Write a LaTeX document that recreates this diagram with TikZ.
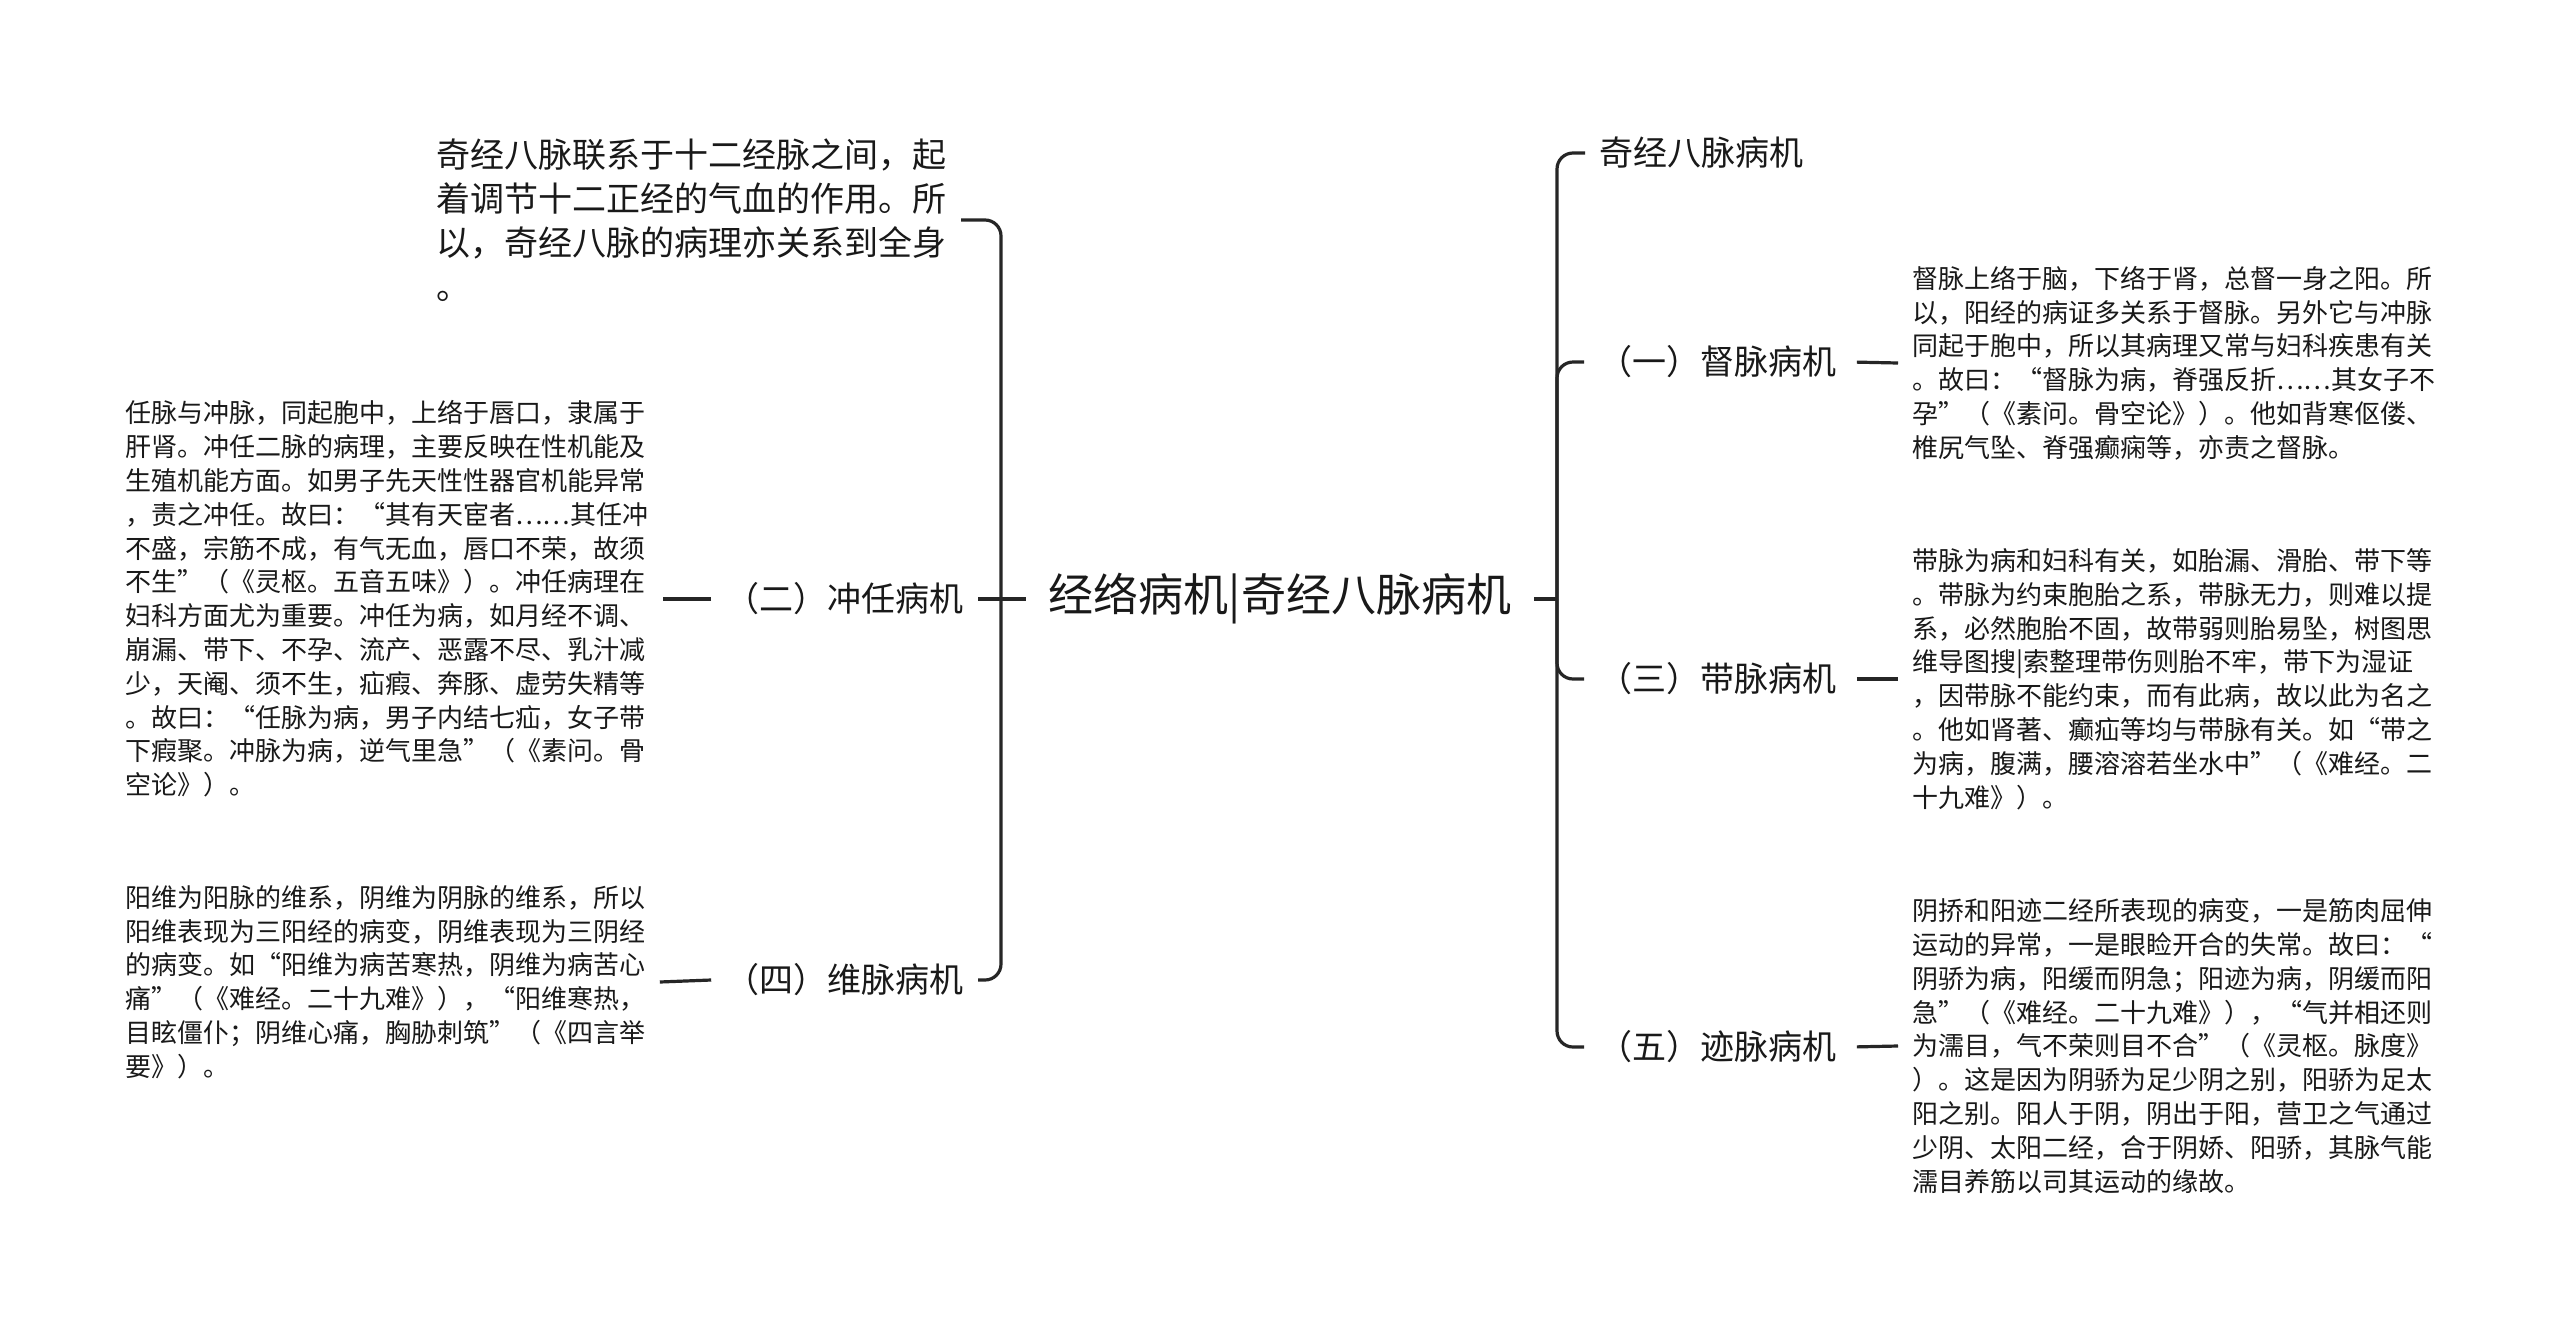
\documentclass[tikz,border=0pt]{standalone}
\usepackage{fontspec}
\setmainfont{Noto Sans CJK SC}
\begin{document}
\begin{tikzpicture}[x=0.5pt,y=-0.5pt,
  conn/.style={line width=1.6pt, draw=black!85},
  brace/.style={conn, rounded corners=8pt},
  body/.style={font=\fontsize{13pt}{16.9pt}\selectfont, align=left, inner xsep=7pt, inner ysep=0pt, text=black!90},
  topblk/.style={font=\fontsize{17pt}{22pt}\selectfont, align=left, inner xsep=7pt, inner ysep=0pt, text=black!90},
  lbl/.style={font=\fontsize{17pt}{20pt}\selectfont, inner xsep=7pt, inner ysep=2pt, text=black!90},
  rootst/.style={font=\fontsize{22.5pt}{26pt}\selectfont, inner xsep=11.5pt, inner ysep=4pt, text=black!90}]
\useasboundingbox (0,0) rectangle (2560,1323);
\fill[white] (0,0) rectangle (2560,1323);

% root
\node[rootst] (root) at (1280,599) {经络病机|奇经八脉病机};
\coordinate (lb) at (1001,599);
\coordinate (rb) at (1557,599);

% left side
\node[topblk, anchor=east] (intro) at (961,220) {奇经八脉联系于十二经脉之间，起\\着调节十二正经的气血的作用。所\\以，奇经八脉的病理亦关系到全身\\。};
\node[lbl, anchor=east] (c2) at (978,599) {（二）冲任病机};
\node[lbl, anchor=east] (c4) at (978,980) {（四）维脉病机};
\node[body, anchor=west] (t2) at (111,599) {任脉与冲脉，同起胞中，上络于唇口，隶属于\\肝肾。冲任二脉的病理，主要反映在性机能及\\生殖机能方面。如男子先天性性器官机能异常\\，责之冲任。故曰：“其有天宦者……其任冲\\不盛，宗筋不成，有气无血，唇口不荣，故须\\不生”（《灵枢。五音五味》）。冲任病理在\\妇科方面尤为重要。冲任为病，如月经不调、\\崩漏、带下、不孕、流产、恶露不尽、乳汁减\\少，天阉、须不生，疝瘕、奔豚、虚劳失精等\\。故曰：“任脉为病，男子内结七疝，女子带\\下瘕聚。冲脉为病，逆气里急”（《素问。骨\\空论》）。};
\node[body, anchor=west] (t4) at (111,982) {阳维为阳脉的维系，阴维为阴脉的维系，所以\\阳维表现为三阳经的病变，阴维表现为三阴经\\的病变。如“阳维为病苦寒热，阴维为病苦心\\痛”（《难经。二十九难》），“阳维寒热，\\目眩僵仆；阴维心痛，胸胁刺筑”（《四言举\\要》）。};

% right side
\node[lbl, anchor=west] (r0) at (1585,153) {奇经八脉病机};
\node[lbl, anchor=west] (r1) at (1584,362) {（一）督脉病机};
\node[lbl, anchor=west] (r3) at (1584,679) {（三）带脉病机};
\node[lbl, anchor=west] (r5) at (1584,1047) {（五）迹脉病机};
\node[body, anchor=west] (t1) at (1898,363) {督脉上络于脑，下络于肾，总督一身之阳。所\\以，阳经的病证多关系于督脉。另外它与冲脉\\同起于胞中，所以其病理又常与妇科疾患有关\\。故曰：“督脉为病，脊强反折……其女子不\\孕”（《素问。骨空论》）。他如背寒伛偻、\\椎尻气坠、脊强癫痫等，亦责之督脉。};
\node[body, anchor=west] (t3) at (1898,679) {带脉为病和妇科有关，如胎漏、滑胎、带下等\\。带脉为约束胞胎之系，带脉无力，则难以提\\系，必然胞胎不固，故带弱则胎易坠，树图思\\维导图搜|索整理带伤则胎不牢，带下为湿证\\，因带脉不能约束，而有此病，故以此为名之\\。他如肾著、癫疝等均与带脉有关。如“带之\\为病，腹满，腰溶溶若坐水中”（《难经。二\\十九难》）。};
\node[body, anchor=west] (t5) at (1898,1046) {阴挢和阳迹二经所表现的病变，一是筋肉屈伸\\运动的异常，一是眼睑开合的失常。故曰：“\\阴骄为病，阳缓而阴急；阳迹为病，阴缓而阳\\急”（《难经。二十九难》），“气并相还则\\为濡目，气不荣则目不合”（《灵枢。脉度》\\）。这是因为阴骄为足少阴之别，阳骄为足太\\阳之别。阳人于阴，阴出于阳，营卫之气通过\\少阴、太阳二经，合于阴娇、阳骄，其脉气能\\濡目养筋以司其运动的缘故。};

% connectors left
\draw[conn] (root.west) -- (lb);
\draw[brace] (lb) |- (intro.east);
\draw[conn] (lb) -- (c2.east);
\draw[brace] (lb) |- (c4.east);
\draw[conn] (c2.west) -- (t2.east);
\draw[conn] (c4.west) -- (t4.east);

% connectors right
\draw[conn] (root.east) -- (rb);
\draw[brace] (rb) |- (r0.west);
\draw[brace] (rb) |- (r1.west);
\draw[brace] (rb) |- (r3.west);
\draw[brace] (rb) |- (r5.west);
\draw[conn, shorten <=3pt] (r1.east) -- (t1.west);
\draw[conn, shorten <=3pt] (r3.east) -- (t3.west);
\draw[conn, shorten <=3pt] (r5.east) -- (t5.west);
\end{tikzpicture}
\end{document}
